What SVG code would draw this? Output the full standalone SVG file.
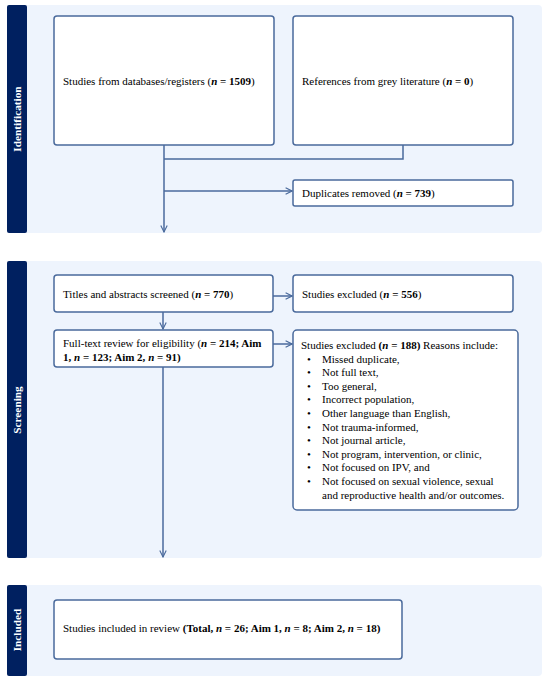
<svg xmlns="http://www.w3.org/2000/svg" width="550" height="681" viewBox="0 0 550 681">
<style>
.panel{fill:#eef4fd}
.side{fill:#002060}
.box{fill:#ffffff;stroke:#4a6a9c;stroke-width:1.5}
.conn{fill:none;stroke:#4a6a9c;stroke-width:1.5}
.t{font-size:11px;fill:#000}
.lab{font-size:11.3px;font-weight:bold;fill:#ffffff}
.b{font-weight:bold}
</style>
<defs>
<marker id="arr" viewBox="0 0 10 10" refX="9" refY="5" markerWidth="8" markerHeight="8" markerUnits="userSpaceOnUse" orient="auto">
<path d="M1,1 L9,5 L1,9" fill="none" stroke="#4a6a9c" stroke-width="1.4"/>
</marker>
</defs>
<g font-family="'Liberation Serif', 'Times New Roman', serif">
<g id="sec-identification">
<rect class="panel" x="7" y="5" width="535" height="228" rx="4"/>
<rect class="side" x="7" y="5" width="20" height="228" rx="2"/>
<text class="lab" transform="translate(21,119) rotate(-90)" text-anchor="middle">Identification</text>
</g>
<g id="sec-screening">
<rect class="panel" x="7" y="261" width="535" height="297" rx="4"/>
<rect class="side" x="7" y="261" width="20" height="297" rx="2"/>
<text class="lab" transform="translate(21,410) rotate(-90)" text-anchor="middle">Screening</text>
</g>
<g id="sec-included">
<rect class="panel" x="7" y="585" width="535" height="91" rx="4"/>
<rect class="side" x="7" y="585" width="20" height="91" rx="2"/>
<text class="lab" transform="translate(21,630) rotate(-90)" text-anchor="middle">Included</text>
</g>
<g id="connectors">
<path class="conn" d="M164,145 V232" marker-end="url(#arr)"/>
<path class="conn" d="M403,145 V159 H164"/>
<path class="conn" d="M164,191 H292" marker-end="url(#arr)"/>
<path class="conn" d="M163,312 V329" marker-end="url(#arr)"/>
<path class="conn" d="M163,367 V557" marker-end="url(#arr)"/>
<path class="conn" d="M273,296 H292" marker-end="url(#arr)"/>
<path class="conn" d="M273,344 H292" marker-end="url(#arr)"/>
</g>
<g id="n-databases">
<rect class="box" x="54" y="16" width="220" height="129" rx="3"/>
<text class="t" x="63" y="85">Studies from databases/registers (<tspan class="b" font-style="italic">n</tspan><tspan class="b"> = 1509</tspan>)</text>
</g>
<g id="n-grey">
<rect class="box" x="293" y="16" width="220" height="129" rx="3"/>
<text class="t" x="302" y="85">References from grey literature (<tspan class="b" font-style="italic">n</tspan><tspan class="b"> = 0</tspan>)</text>
</g>
<g id="n-duplicates">
<rect class="box" x="293" y="180" width="220" height="26" rx="2"/>
<text class="t" x="302" y="197">Duplicates removed (<tspan class="b" font-style="italic">n</tspan><tspan class="b"> = 739</tspan>)</text>
</g>
<g id="n-titles">
<rect class="box" x="54" y="275" width="219" height="37" rx="3"/>
<text class="t" x="63" y="298">Titles and abstracts screened (<tspan class="b" font-style="italic">n</tspan><tspan class="b"> = 770</tspan>)</text>
</g>
<g id="n-excluded556">
<rect class="box" x="293" y="275" width="220" height="37" rx="3"/>
<text class="t" x="302" y="298">Studies excluded (<tspan class="b" font-style="italic">n</tspan><tspan class="b"> = 556</tspan>)</text>
</g>
<g id="n-fulltext">
<rect class="box" x="54" y="330" width="219" height="37" rx="3"/>
<text class="t" x="63" y="347">Full-text review for eligibility (<tspan class="b" font-style="italic">n</tspan><tspan class="b"> = 214; Aim</tspan></text>
<text class="t b" x="63" y="361">1, <tspan font-style="italic">n</tspan> = 123; Aim 2, <tspan font-style="italic">n</tspan> = 91)</text>
</g>
<g id="n-excluded188">
<rect class="box" x="293" y="330" width="225" height="180" rx="4"/>
<text class="t" x="301" y="349">Studies excluded <tspan class="b">(</tspan><tspan class="b" font-style="italic">n</tspan><tspan class="b"> = 188)</tspan> Reasons include:</text>
<g class="t">
<text x="307" y="362.6">•</text><text x="322" y="362.6">Missed duplicate,</text>
<text x="307" y="376.2">•</text><text x="322" y="376.2">Not full text,</text>
<text x="307" y="389.8">•</text><text x="322" y="389.8">Too general,</text>
<text x="307" y="403.4">•</text><text x="322" y="403.4">Incorrect population,</text>
<text x="307" y="417">•</text><text x="322" y="417">Other language than English,</text>
<text x="307" y="430.6">•</text><text x="322" y="430.6">Not trauma-informed,</text>
<text x="307" y="444.2">•</text><text x="322" y="444.2">Not journal article,</text>
<text x="307" y="457.8">•</text><text x="322" y="457.8">Not program, intervention, or clinic,</text>
<text x="307" y="471.4">•</text><text x="322" y="471.4">Not focused on IPV, and</text>
<text x="307" y="485">•</text><text x="322" y="485">Not focused on sexual violence, sexual</text>
<text x="322" y="498.6">and reproductive health and/or outcomes.</text>
</g>
</g>
<g id="n-included">
<rect class="box" x="54" y="600" width="348" height="59" rx="3"/>
<text class="t" x="63" y="632">Studies included in review <tspan class="b">(Total, <tspan font-style="italic">n</tspan> = 26; Aim 1, <tspan font-style="italic">n</tspan> = 8; Aim 2, <tspan font-style="italic">n</tspan> = 18)</tspan></text>
</g>
</g>
</svg>
